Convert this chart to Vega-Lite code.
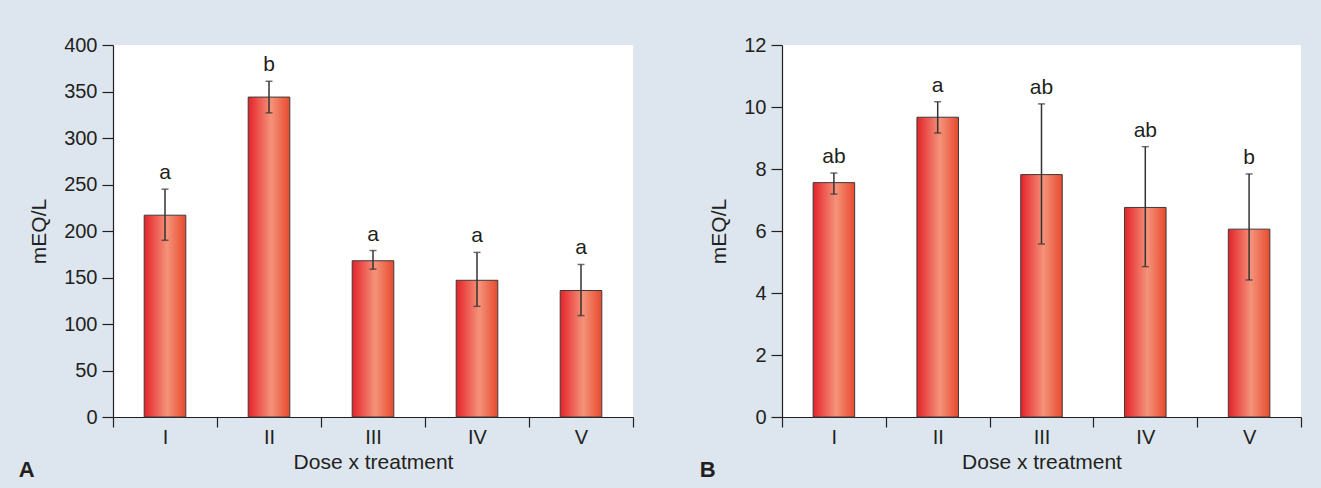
{
  "$schema": "https://vega.github.io/schema/vega-lite/v6.json",
  "background": "#dde6ef",
  "padding": {"left": 18, "top": 35, "right": 22, "bottom": 20},
  "spacing": 65,
  "config": {
    "font": "Liberation Sans",
    "view": {"fill": "white", "stroke": null},
    "axis": {
      "domainColor": "#231f20", "tickColor": "#231f20", "labelColor": "#231f20", "titleColor": "#231f20",
      "labelFontSize": 20, "titleFontSize": 21, "titleFontWeight": "normal",
      "tickSize": 10, "grid": false, "domainWidth": 1.2, "tickWidth": 1.2
    },
    "title": {"fontSize": 22, "fontWeight": "bold", "color": "#231f20", "orient": "bottom", "anchor": "start", "frame": "bounds"}
  },
  "hconcat": [
    {
      "width": 520, "height": 372,
      "title": {"text": "A", "dy": -16, "dx": -10},
      "data": {"values": [
        {"dose": "I", "mean": 217, "lo": 190, "hi": 245, "letter": "a"},
        {"dose": "II", "mean": 344, "lo": 327, "hi": 361, "letter": "b"},
        {"dose": "III", "mean": 168, "lo": 159, "hi": 179, "letter": "a"},
        {"dose": "IV", "mean": 147, "lo": 119, "hi": 177, "letter": "a"},
        {"dose": "V", "mean": 136, "lo": 109, "hi": 164, "letter": "a"}
      ]},
      "encoding": {
        "x": {"field": "dose", "type": "nominal", "sort": null, "scale": {"paddingInner": 0, "paddingOuter": 0},
              "axis": {"title": "Dose x treatment", "labelAngle": 0, "tickBand": "extent", "labelPadding": 0, "titlePadding": 4}}
      },
      "layer": [
        {"mark": {"type": "bar", "width": {"band": 0.4}, "stroke": "#3a3a3a", "strokeWidth": 1,
                  "fill": {"gradient": "linear", "x1": 0, "y1": 0, "x2": 1, "y2": 0,
                           "stops": [{"offset": 0, "color": "#e5232a"}, {"offset": 0.55, "color": "#f4937a"}, {"offset": 1, "color": "#e84a2e"}]}},
         "encoding": {"y": {"field": "mean", "type": "quantitative", "scale": {"domain": [0, 400]},
                            "axis": {"title": "mEQ/L", "values": [0, 50, 100, 150, 200, 250, 300, 350, 400], "tickSize": 11, "labelPadding": 5, "titlePadding": 14}}}},
        {"mark": {"type": "rule", "color": "#333333", "strokeWidth": 1.5},
         "encoding": {"y": {"field": "lo", "type": "quantitative"}, "y2": {"field": "hi"}}},
        {"mark": {"type": "tick", "color": "#333333", "size": 7, "thickness": 1.5},
         "encoding": {"y": {"field": "lo", "type": "quantitative"}}},
        {"mark": {"type": "tick", "color": "#333333", "size": 7, "thickness": 1.5},
         "encoding": {"y": {"field": "hi", "type": "quantitative"}}},
        {"mark": {"type": "text", "fontSize": 21, "color": "#231f20", "baseline": "alphabetic", "dy": -10},
         "encoding": {"y": {"field": "hi", "type": "quantitative"}, "text": {"field": "letter"}}}
      ]
    },
    {
      "width": 519, "height": 372,
      "title": {"text": "B", "dy": -16, "dx": -9},
      "data": {"values": [
        {"dose": "I", "mean": 7.56, "lo": 7.19, "hi": 7.87, "letter": "ab"},
        {"dose": "II", "mean": 9.67, "lo": 9.16, "hi": 10.17, "letter": "a"},
        {"dose": "III", "mean": 7.82, "lo": 5.58, "hi": 10.1, "letter": "ab"},
        {"dose": "IV", "mean": 6.76, "lo": 4.85, "hi": 8.72, "letter": "ab"},
        {"dose": "V", "mean": 6.06, "lo": 4.42, "hi": 7.84, "letter": "b"}
      ]},
      "encoding": {
        "x": {"field": "dose", "type": "nominal", "sort": null, "scale": {"paddingInner": 0, "paddingOuter": 0},
              "axis": {"title": "Dose x treatment", "labelAngle": 0, "tickBand": "extent", "labelPadding": 0, "titlePadding": 4}}
      },
      "layer": [
        {"mark": {"type": "bar", "width": {"band": 0.4}, "stroke": "#3a3a3a", "strokeWidth": 1,
                  "fill": {"gradient": "linear", "x1": 0, "y1": 0, "x2": 1, "y2": 0,
                           "stops": [{"offset": 0, "color": "#e5232a"}, {"offset": 0.55, "color": "#f4937a"}, {"offset": 1, "color": "#e84a2e"}]}},
         "encoding": {"y": {"field": "mean", "type": "quantitative", "scale": {"domain": [0, 12]},
                            "axis": {"title": "mEQ/L", "values": [0, 2, 4, 6, 8, 10, 12], "tickSize": 11, "labelPadding": 5, "titlePadding": 14}}}},
        {"mark": {"type": "rule", "color": "#333333", "strokeWidth": 1.5},
         "encoding": {"y": {"field": "lo", "type": "quantitative"}, "y2": {"field": "hi"}}},
        {"mark": {"type": "tick", "color": "#333333", "size": 7, "thickness": 1.5},
         "encoding": {"y": {"field": "lo", "type": "quantitative"}}},
        {"mark": {"type": "tick", "color": "#333333", "size": 7, "thickness": 1.5},
         "encoding": {"y": {"field": "hi", "type": "quantitative"}}},
        {"mark": {"type": "text", "fontSize": 21, "color": "#231f20", "baseline": "alphabetic", "dy": -10},
         "encoding": {"y": {"field": "hi", "type": "quantitative"}, "text": {"field": "letter"}}}
      ]
    }
  ]
}
